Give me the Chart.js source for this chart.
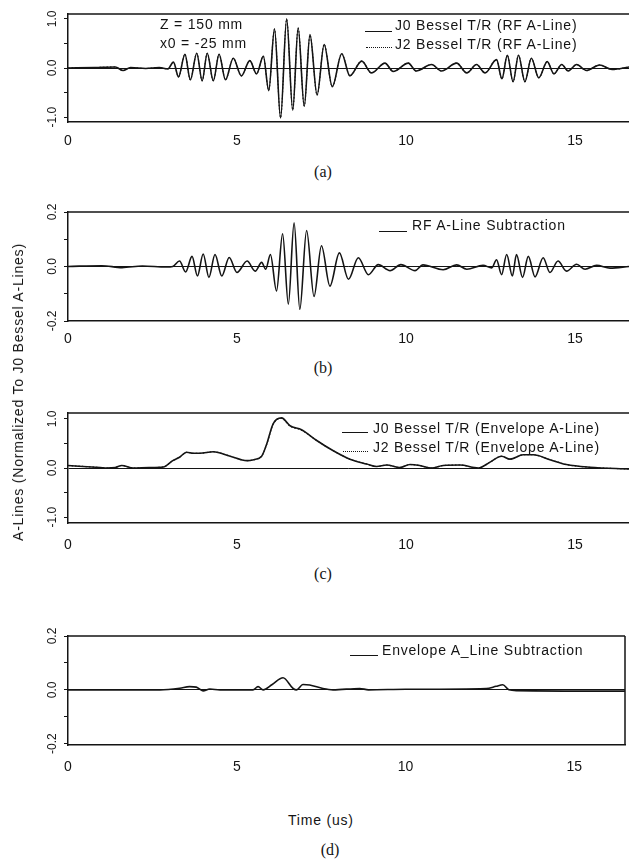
<!DOCTYPE html>
<html>
<head>
<meta charset="utf-8">
<title>Bessel T/R A-Lines</title>
<script src="https://cdn.jsdelivr.net/npm/chart.js@4.4.1/dist/chart.umd.min.js"></script>
<style>
  html, body { margin: 0; padding: 0; background: #fff; }
  #page { position: relative; width: 629px; height: 860px; overflow: hidden;
          font-family: "Liberation Sans", Arial, sans-serif; color: #141414; }
  .panel { position: absolute; left: 0; width: 629px; }
  .txt { position: absolute; font-size: 14px; letter-spacing: 0.8px; line-height: 16px;
         white-space: nowrap; transform: translateY(-50%); }
  .cap { position: absolute; font-family: "Liberation Serif", "Times New Roman", serif;
         font-size: 16px; line-height: 18px; transform: translate(-50%, -50%); }
  .key { position: absolute; height: 0; border-top: 1.5px solid #141414; }
  .key.dot { border-top: 1.5px dotted #141414; }
  #ytitle { position: absolute; left: 18px; top: 392px; font-size: 14px; letter-spacing: 0.8px;
            white-space: nowrap; transform: translate(-50%, -50%) rotate(-90deg); }
</style>
</head>
<body>
<div id="page">
  <div class="panel" style="top:0px;height:158px"><canvas id="chartA"></canvas></div>
  <div class="panel" style="top:198px;height:159px"><canvas id="chartB"></canvas></div>
  <div class="panel" style="top:399px;height:160px"><canvas id="chartC"></canvas></div>
  <div class="panel" style="top:622px;height:159px"><canvas id="chartD"></canvas></div>

  <!-- panel (a) notes + legend -->
  <div class="txt" style="left:160px;top:24px">Z = 150 mm</div>
  <div class="txt" style="left:160px;top:43px">x0 = -25 mm</div>
  <div class="key" style="left:365px;top:31px;width:27px"></div>
  <div class="txt" style="left:395px;top:25px">J0 Bessel T/R (RF A-Line)</div>
  <div class="key dot" style="left:366px;top:47px;width:26px"></div>
  <div class="txt" style="left:395px;top:44px">J2 Bessel T/R (RF A-Line)</div>

  <!-- panel (b) legend -->
  <div class="key" style="left:379px;top:231px;width:28px"></div>
  <div class="txt" style="left:412px;top:225px">RF A-Line Subtraction</div>

  <!-- panel (c) legend -->
  <div class="key" style="left:342px;top:432px;width:26px"></div>
  <div class="txt" style="left:373px;top:428px">J0 Bessel T/R (Envelope A-Line)</div>
  <div class="key dot" style="left:343px;top:451px;width:25px"></div>
  <div class="txt" style="left:373px;top:447px">J2 Bessel T/R (Envelope A-Line)</div>

  <!-- panel (d) legend -->
  <div class="key" style="left:350px;top:655px;width:28px"></div>
  <div class="txt" style="left:382px;top:650px">Envelope A_Line Subtraction</div>

  <div id="ytitle">A-Lines (Normalized To J0 Bessel A-Lines)</div>
  <div class="txt" style="left:288px;top:820px">Time (us)</div>

  <div class="cap" style="left:323px;top:172px">(a)</div>
  <div class="cap" style="left:323px;top:368px">(b)</div>
  <div class="cap" style="left:323px;top:574px">(c)</div>
  <div class="cap" style="left:330px;top:850px">(d)</div>
</div>

<script>
// time axis (us)
const xTicks = [0, 5, 10, 15];

// (a) RF A-lines, peaks/troughs
const rfTime = [0, 0.8, 1.4, 1.63, 1.85, 2.3, 2.7, 2.95, 3.12, 3.27, 3.46, 3.62, 3.81, 3.97,
  4.12, 4.3, 4.47, 4.66, 4.89, 5.13, 5.38, 5.58, 5.78, 5.94, 6.11, 6.29, 6.47, 6.65, 6.81,
  6.99, 7.16, 7.37, 7.58, 7.82, 8.1, 8.34, 8.69, 8.98, 9.38, 9.62, 10.07, 10.3, 10.76, 11.05,
  11.5, 11.8, 12.09, 12.34, 12.68, 12.84, 13.0, 13.17, 13.33, 13.52, 13.71, 13.93, 14.18,
  14.38, 14.61, 14.8, 15.05, 15.34, 15.73, 16.1, 16.6];
const j0RF = [0, 0.01, 0.02, -0.05, 0.01, -0.01, 0.01, -0.02, 0.12, -0.18, 0.28, -0.24, 0.3, -0.26,
  0.3, -0.26, 0.28, -0.24, 0.2, -0.16, 0.15, -0.12, 0.24, -0.46, 0.8, -1.02, 1.0, -0.86, 0.82,
  -0.78, 0.68, -0.55, 0.48, -0.38, 0.29, -0.16, 0.14, -0.1, 0.1, -0.07, 0.1, -0.06, 0.07, -0.06,
  0.1, -0.1, 0.07, -0.1, 0.17, -0.22, 0.26, -0.28, 0.26, -0.28, 0.2, -0.2, 0.13,
  -0.12, 0.07, -0.06, 0.07, -0.05, 0.06, -0.03, 0.02];
// the J2 trace sits on top of J0 in the scan
const j2RF = [0, 0.01, 0.02, -0.05, 0.01, -0.01, 0.01, -0.02, 0.12, -0.18, 0.28, -0.24, 0.3, -0.26,
  0.3, -0.26, 0.28, -0.24, 0.2, -0.16, 0.15, -0.12, 0.24, -0.45, 0.79, -1.01, 0.99, -0.85, 0.81,
  -0.77, 0.67, -0.55, 0.48, -0.38, 0.29, -0.16, 0.14, -0.1, 0.1, -0.07, 0.1, -0.06, 0.07, -0.06,
  0.1, -0.1, 0.07, -0.1, 0.17, -0.22, 0.26, -0.28, 0.26, -0.28, 0.2, -0.2, 0.13,
  -0.12, 0.07, -0.06, 0.07, -0.05, 0.06, -0.03, 0.02];

// (b) RF subtraction
const subTime = [0, 1.0, 1.6, 2.2, 2.9, 3.1, 3.3, 3.48, 3.67, 3.83, 4.0, 4.17, 4.35, 4.55, 4.77,
  5.0, 5.3, 5.54, 5.73, 5.85, 5.99, 6.17, 6.35, 6.52, 6.69, 6.86, 7.06, 7.28, 7.5, 7.75, 8.03,
  8.3, 8.59, 8.89, 9.18, 9.53, 9.85, 10.27, 10.5, 11.1, 11.5, 11.8, 12.28, 12.54, 12.68, 12.83,
  12.98, 13.15, 13.27, 13.45, 13.62, 13.82, 14.06, 14.26, 14.5, 14.75, 15.05, 15.3, 15.64,
  16.04, 16.6];
const rfSub = [0, 0.003, -0.004, 0.002, -0.002, 0, 0.02, -0.02, 0.037, -0.035, 0.046, -0.04, 0.044,
  -0.035, 0.033, -0.022, 0.02, -0.017, 0.015, -0.01, 0.044, -0.09, 0.12, -0.138, 0.16, -0.157,
  0.132, -0.11, 0.076, -0.072, 0.05, -0.047, 0.032, -0.03, 0.007, -0.015, 0.007, -0.015, 0.006,
  -0.012, 0.006, -0.01, 0.004, -0.005, 0.025, -0.03, 0.044, -0.035, 0.044, -0.04, 0.037, -0.038,
  0.032, -0.022, 0.02, -0.017, 0.008, -0.01, 0.004, -0.006, 0];

// (c) envelope A-lines
const envTime = [0, 0.95, 1.14, 1.4, 1.59, 1.93, 2.4, 2.82, 3.1, 3.3, 3.51, 3.7, 3.9, 4.3, 4.8,
  5.29, 5.5, 5.73, 5.88, 6.07, 6.32, 6.57, 6.91, 7.36, 7.85, 8.34, 8.84, 9.13, 9.43, 9.82, 10.12,
  10.41, 10.76, 11.1, 11.6, 12.14, 12.49, 12.83, 13.08, 13.47, 13.77, 14.26, 14.75, 15.44, 16.6];
const j0Env = [0.05, 0.01, 0, 0.01, 0.05, 0, 0.01, 0.02, 0.15, 0.22, 0.32, 0.3, 0.3, 0.33, 0.24,
  0.15, 0.17, 0.24, 0.49, 0.9, 1.02, 0.86, 0.78, 0.56, 0.35, 0.18, 0.08, 0.03, 0.06, 0.01, 0.07,
  0.05, 0, 0.05, 0.06, 0, 0.12, 0.24, 0.18, 0.27, 0.27, 0.17, 0.07, 0.015, -0.02];
const j2Env = [0.05, 0.01, 0, 0.01, 0.05, 0, 0.01, 0.02, 0.15, 0.22, 0.32, 0.3, 0.3, 0.33, 0.24,
  0.15, 0.17, 0.24, 0.48, 0.89, 1.01, 0.85, 0.77, 0.56, 0.35, 0.18, 0.08, 0.03, 0.06, 0.01, 0.07,
  0.05, 0, 0.05, 0.06, 0, 0.12, 0.24, 0.18, 0.27, 0.27, 0.17, 0.07, 0.015, -0.02];

// (d) envelope subtraction
const envSubTime = [0, 2.72, 3.31, 3.6, 3.8, 4.0, 4.2, 4.5, 5.48, 5.63, 5.78, 6.05, 6.37, 6.67,
  6.77, 6.96, 7.16, 7.55, 7.85, 8.64, 8.9, 10.0, 12.39, 12.68, 12.88, 13.06, 13.3, 16.5];
const envSub = [0, 0, 0.006, 0.012, 0.01, -0.004, 0.003, 0, 0, 0.012, 0, 0.02, 0.045, 0.005,
  0, 0.02, 0.018, 0.005, 0, 0.005, 0, 0.002, 0.005, 0.013, 0.019, 0, -0.003, -0.005];

const ink = '#141414';
Chart.defaults.font.family = '"Liberation Sans", Arial, sans-serif';
Chart.defaults.color = ink;

function pts(xs, ys) {
  return xs.map((x, i) => ({ x: x, y: ys[i] }));
}

// top border (and right border when asked) of the plot box
const framePlugin = {
  id: 'frame',
  afterDraw(chart, args, opts) {
    const { ctx, chartArea: a } = chart;
    ctx.save();
    ctx.strokeStyle = ink;
    ctx.lineWidth = 1.5;
    ctx.beginPath();
    ctx.moveTo(a.left, a.top);
    ctx.lineTo(a.right, a.top);
    if (opts.right) {
      ctx.moveTo(a.right, a.top);
      ctx.lineTo(a.right, a.bottom);
    }
    ctx.stroke();
    ctx.restore();
  }
};

function lineSet(data, dotted) {
  return {
    data: data,
    borderColor: ink,
    borderWidth: dotted ? 1.1 : 1.6,
    borderDash: dotted ? [1.5, 2] : [],
    pointRadius: 0,
    fill: false,
    cubicInterpolationMode: 'monotone'
  };
}

function makeChart(id, datasets, cfg) {
  const isLabel = cfg.isLabel;
  return new Chart(document.getElementById(id), {
    type: 'line',
    data: { datasets: datasets },
    plugins: [framePlugin],
    options: {
      responsive: true,
      maintainAspectRatio: false,
      animation: false,
      layout: { padding: { top: 14, right: cfg.padRight || 0, left: 0, bottom: 0 } },
      plugins: {
        legend: { display: false },
        tooltip: { enabled: false },
        frame: { right: !!cfg.rightBorder }
      },
      scales: {
        x: {
          type: 'linear',
          min: 0,
          max: cfg.xMax,
          afterFit: (s) => { s.height = 36; },
          afterBuildTicks: (s) => { s.ticks = xTicks.map(v => ({ value: v })); },
          grid: { display: false },
          border: { display: true, color: ink, width: 1.5 },
          ticks: { font: { size: 14 }, padding: cfg.xPad, color: ink, maxRotation: 0, callback: v => String(v) }
        },
        y: {
          min: cfg.yMin,
          max: cfg.yMax,
          afterFit: (s) => { s.width = 68; },
          grid: {
            color: (c) => (Math.abs(c.tick.value) < 1e-9 ? ink : 'rgba(0,0,0,0)'),
            lineWidth: 1,
            tickColor: ink,
            tickLength: 4
          },
          border: { display: true, color: ink, width: 1.5 },
          ticks: {
            stepSize: cfg.step,
            includeBounds: false,
            minRotation: 90,
            maxRotation: 90,
            crossAlign: 'center',
            padding: 1,
            font: { size: 12 },
            color: ink,
            callback: (v) => (isLabel(v) ? v.toFixed(1) : '')
          }
        }
      }
    }
  });
}

const bigLabel = v => Math.abs(v - Math.round(v)) < 1e-6;
const smallLabel = v => Math.abs(v) < 1e-6 || Math.abs(Math.abs(v) - 0.2) < 1e-6;

makeChart('chartA', [lineSet(pts(rfTime, j0RF), false), lineSet(pts(rfTime, j2RF), true)],
  { xMax: 16.6, yMin: -1.1, yMax: 1.1, step: 0.5, isLabel: bigLabel, xPad: 3 });
makeChart('chartB', [lineSet(pts(subTime, rfSub), false)],
  { xMax: 16.6, yMin: -0.2, yMax: 0.2, step: 0.1, isLabel: smallLabel, xPad: 2 });
makeChart('chartC', [lineSet(pts(envTime, j0Env), false), lineSet(pts(envTime, j2Env), true)],
  { xMax: 16.6, yMin: -1.12, yMax: 1.12, step: 0.5, isLabel: bigLabel, xPad: 6 });
makeChart('chartD', [lineSet(pts(envSubTime, envSub), false)],
  { xMax: 16.5, yMin: -0.205, yMax: 0.2, step: 0.1, isLabel: smallLabel, xPad: 6, padRight: 4, rightBorder: true });
</script>
</body>
</html>
